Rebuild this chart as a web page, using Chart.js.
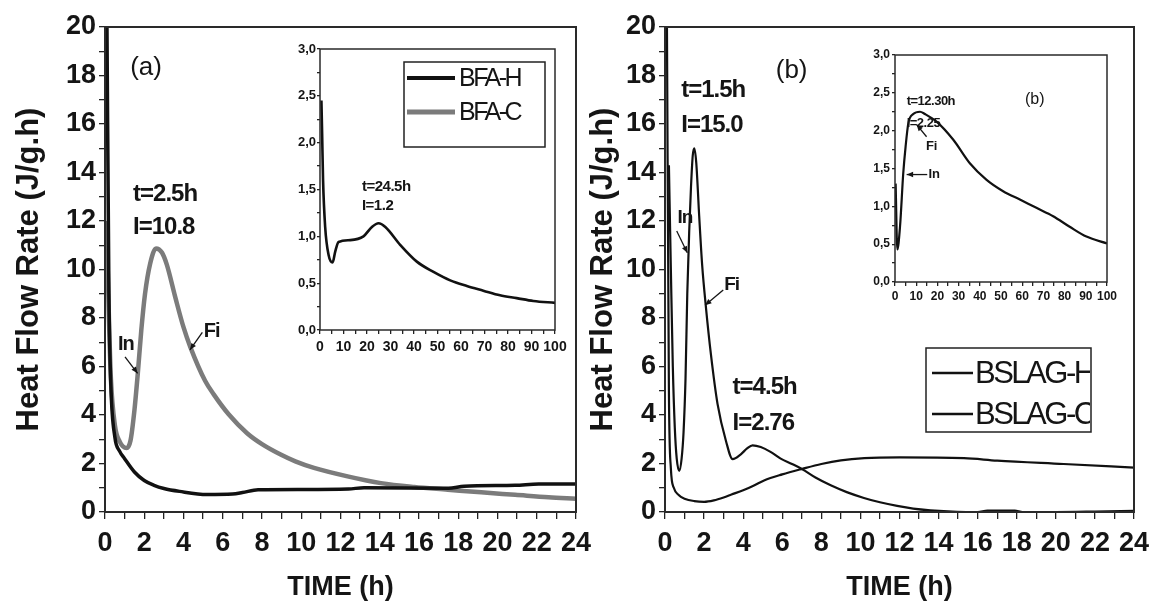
<!DOCTYPE html>
<html>
<head>
<meta charset="utf-8">
<script src="https://cdn.jsdelivr.net/npm/chart.js@4.4.1/dist/chart.umd.min.js"></script>
<style>
  body { margin: 0; background: #fff; width: 1157px; height: 614px; overflow: hidden; position: relative; }
  canvas { position: absolute; }
</style>
</head>
<body>
<canvas id="mainA" width="601" height="614" style="left:0;top:0"></canvas>
<canvas id="mainB" width="579" height="614" style="left:580px;top:0"></canvas>
<canvas id="insetA" width="283" height="330" style="left:290px;top:35px"></canvas>
<canvas id="insetB" width="263" height="275" style="left:862px;top:40px"></canvas>
<script>
// panel (a): BFA, first 24 h
const bfaHTime = [0.1, 0.2, 0.3, 0.5, 0.75, 1.0, 1.5, 2.0, 2.5, 3.0, 3.8, 5.2, 6.5, 7.0, 7.8, 10, 12.4, 13.2, 17.5, 18.3, 20.9, 22.1, 24];
const bfaHRate = [20, 9, 5.2, 3.1, 2.5, 2.2, 1.65, 1.3, 1.1, 0.97, 0.85, 0.72, 0.74, 0.8, 0.92, 0.93, 0.95, 1.0, 0.98, 1.06, 1.1, 1.15, 1.15];
const bfaCTime = [0.08, 0.2, 0.3, 0.5, 0.75, 1.1, 1.3, 1.5, 1.67, 1.85, 2.04, 2.3, 2.6, 2.9, 3.15, 3.58, 4.0, 4.35, 5.1, 5.54, 6.3, 7.24, 8.0, 8.95, 9.7, 10.65, 12.36, 14.06, 15.76, 17.47, 19.17, 20.9, 22.6, 24];
const bfaCRate = [12, 8, 5.5, 3.6, 2.9, 2.64, 2.95, 4.2, 5.7, 7.5, 9.0, 10.24, 10.87, 10.7, 10.2, 8.86, 7.62, 6.8, 5.41, 4.85, 4.03, 3.25, 2.8, 2.37, 2.09, 1.82, 1.47, 1.19, 1.03, 0.92, 0.81, 0.71, 0.61, 0.55];
// inset (a): BFA-H up to 100 h
const bfaLongTime = [0.6, 0.9, 1.3, 2.2, 3.66, 5.36, 6.5, 7.9, 12.9, 18.5, 22.1, 24.9, 27.8, 34.1, 41.2, 48.3, 55.4, 62.5, 69.5, 76.6, 83.7, 90.8, 100];
const bfaLongRate = [2.45, 2.1, 1.6, 1.1, 0.8, 0.72, 0.84, 0.94, 0.96, 1.0, 1.1, 1.14, 1.1, 0.91, 0.73, 0.62, 0.53, 0.47, 0.42, 0.37, 0.34, 0.31, 0.29];

// panel (b): BSLAG, first 24 h
const slagHTime = [0.1, 0.2, 0.3, 0.45, 0.7, 1.0, 1.5, 2.0, 2.5, 3.0, 3.4, 4.0, 4.5, 5.07, 6.0, 7.03, 8.0, 9.0, 10.2, 12.0, 15.3, 17.0, 20.4, 24];
const slagHRate = [20, 5, 1.8, 1.0, 0.7, 0.55, 0.45, 0.42, 0.48, 0.6, 0.72, 0.9, 1.07, 1.3, 1.55, 1.78, 1.98, 2.13, 2.22, 2.25, 2.22, 2.12, 1.98, 1.83];
const slagCTime = [0.2, 0.3, 0.4, 0.5, 0.6, 0.73, 0.85, 0.95, 1.05, 1.14, 1.24, 1.33, 1.42, 1.5, 1.6, 1.75, 1.9, 2.1, 2.35, 2.69, 3.12, 3.46, 3.88, 4.2, 4.48, 4.9, 5.4, 5.92, 6.5, 7.03, 7.7, 8.48, 9.3, 10.18, 11.0, 11.88, 12.7, 13.58, 14.95, 16.0, 16.5, 17.9, 18.3, 20, 22, 24];
const slagCRate = [14.3, 10, 6, 3.5, 2.2, 1.7, 2.2, 3.3, 5.5, 9.0, 11.6, 13.4, 14.7, 15.0, 14.4, 12.2, 10.2, 8.4, 6.5, 4.45, 2.93, 2.18, 2.38, 2.62, 2.75, 2.68, 2.48, 2.2, 1.98, 1.76, 1.42, 1.1, 0.82, 0.58, 0.4, 0.25, 0.14, 0.07, 0.01, 0, 0.06, 0.06, 0, 0, 0.02, 0.05];
// inset (b): up to 100 h
const slagLongTime = [0.3, 1.1, 2.36, 3.9, 5.0, 6.3, 8.6, 11.8, 14.1, 19.6, 27.5, 35.3, 43.2, 51, 58.9, 66.7, 74.6, 82.4, 90.3, 100];
const slagLongRate = [1.3, 0.43, 0.73, 1.44, 1.79, 2.1, 2.22, 2.25, 2.22, 2.12, 1.88, 1.57, 1.35, 1.2, 1.09, 0.98, 0.87, 0.73, 0.6, 0.51];

const namesA = ['BFA-H', 'BFA-C'];
const namesB = ['BSLAG-H', 'BSLAG-C'];
const yTitle = 'Heat Flow Rate (J/g.h)';
const xTitle = 'TIME (h)';

const pts = (t, v) => t.map((x, i) => ({ x: x, y: v[i] }));
const FONT = '"Liberation Sans", Arial, sans-serif';
const INK = '#151515';

// frame, notes, arrows and the boxed legends
const extras = {
  id: 'extras',
  afterDraw(chart, args, opts) {
    const { ctx, chartArea: a } = chart;
    const sx = chart.scales.x, sy = chart.scales.y;
    ctx.save();
    ctx.strokeStyle = '#2a2a2a';
    ctx.lineWidth = opts.frame || 2;
    ctx.strokeRect(a.left, a.top, a.right - a.left, a.bottom - a.top);

    (opts.arrows || []).forEach(r => {
      const x1 = sx.getPixelForValue(r[0]), y1 = sy.getPixelForValue(r[1]);
      const x2 = sx.getPixelForValue(r[2]), y2 = sy.getPixelForValue(r[3]);
      const ang = Math.atan2(y2 - y1, x2 - x1);
      ctx.strokeStyle = INK; ctx.fillStyle = INK; ctx.lineWidth = 1.3;
      ctx.beginPath(); ctx.moveTo(x1, y1); ctx.lineTo(x2, y2); ctx.stroke();
      ctx.beginPath();
      ctx.moveTo(x2, y2);
      ctx.lineTo(x2 - 7 * Math.cos(ang - 0.4), y2 - 7 * Math.sin(ang - 0.4));
      ctx.lineTo(x2 - 7 * Math.cos(ang + 0.4), y2 - 7 * Math.sin(ang + 0.4));
      ctx.closePath(); ctx.fill();
    });

    ctx.fillStyle = INK;
    ctx.textBaseline = 'middle';
    (opts.notes || []).forEach(n => {
      ctx.font = n.font;
      ctx.letterSpacing = n.spacing || '0px';
      ctx.textAlign = n.align || 'left';
      ctx.fillText(n.text, sx.getPixelForValue(n.x), sy.getPixelForValue(n.y));
    });

    const lg = opts.legend;
    if (lg) {
      ctx.letterSpacing = '0px';
      ctx.strokeStyle = '#222'; ctx.lineWidth = 1.5;
      ctx.strokeRect(lg.x, lg.y, lg.w, lg.h);
      ctx.save();
      ctx.beginPath(); ctx.rect(lg.x, lg.y, lg.w - 1, lg.h); ctx.clip();
      lg.items.forEach((it, i) => {
        const yy = lg.rows[i];
        ctx.strokeStyle = it.color; ctx.lineWidth = it.width;
        ctx.beginPath(); ctx.moveTo(lg.x1, yy); ctx.lineTo(lg.x2, yy); ctx.stroke();
        ctx.fillStyle = INK;
        ctx.font = lg.font; ctx.letterSpacing = lg.spacing;
        ctx.textAlign = 'left';
        ctx.fillText(it.label, lg.tx, yy + 1);
      });
      ctx.restore();
    }
    ctx.restore();
  }
};

function axis(o) {
  return {
    type: 'linear', min: o.min, max: o.max,
    border: { display: false },
    grid: { drawOnChartArea: false, drawTicks: true, tickLength: o.tick, color: '#222', lineWidth: 1.3 },
    ticks: {
      stepSize: o.step, autoSkip: false, maxRotation: 0, padding: o.pad, color: INK,
      font: { family: FONT, size: o.size, weight: 'bold' },
      callback: o.label
    },
    title: o.title || { display: false },
    afterFit: o.fit
  };
}

function make(id, datasets, sc, padding, extrasOpts) {
  return new Chart(document.getElementById(id), {
    type: 'line',
    data: { datasets: datasets },
    options: {
      responsive: false, animation: false,
      layout: { padding: padding },
      elements: { point: { radius: 0 }, line: { cubicInterpolationMode: 'monotone' } },
      plugins: { legend: { display: false }, tooltip: { enabled: false }, extras: extrasOpts },
      scales: sc
    },
    plugins: [extras]
  });
}

const evenLabel = v => (Math.round(v) % 2 === 0 ? String(v) : '');
const tenLabel = v => (Math.round(v) % 10 === 0 ? String(v) : '');
const commaLabel = v => (Math.round(v * 4) % 2 === 0 ? v.toFixed(1).replace('.', ',') : '');
const bigTitle = (text, size, pad) => ({ display: true, text: text, color: INK, padding: pad, font: { family: FONT, size: size, weight: 'bold' } });

const noteFont = 'bold 24px ' + FONT;

// ---- panel (a)
make('mainA', [
  { label: namesA[0], data: pts(bfaHTime, bfaHRate), borderColor: '#111', borderWidth: 3.5 },
  { label: namesA[1], data: pts(bfaCTime, bfaCRate), borderColor: '#7b7b7b', borderWidth: 4.5 }
], {
  x: axis({ min: 0, max: 24, step: 1, tick: 7, pad: 8, size: 27, label: evenLabel,
    title: bigTitle(xTitle, 27, { top: 4, bottom: 10 }), fit: s => { s.height = 102; } }),
  y: axis({ min: 0, max: 20, step: 1, tick: 6, pad: 3, size: 27, label: evenLabel,
    title: bigTitle(yTitle, 31, { top: 11, bottom: 0 }), fit: s => { s.width = 105; } })
}, { left: 0, top: 27, right: 25, bottom: 0 }, {
  frame: 2,
  notes: [
    { text: '(a)', x: 2.09, y: 18.3, align: 'center', font: '26px ' + FONT },
    { text: 't=2.5h', x: 1.43, y: 13.1, font: noteFont, spacing: '-1px' },
    { text: 'I=10.8', x: 1.43, y: 11.75, font: noteFont, spacing: '-1px' },
    { text: 'In', x: 1.06, y: 6.9, align: 'center', font: 'bold 20px ' + FONT, spacing: '-1px' },
    { text: 'Fi', x: 5.43, y: 7.44, align: 'center', font: 'bold 20px ' + FONT, spacing: '-1px' }
  ],
  arrows: [[1.02, 6.4, 1.66, 5.72], [4.96, 7.41, 4.33, 6.69]]
});

make('insetA', [
  { label: namesA[0], data: pts(bfaLongTime, bfaLongRate), borderColor: '#111', borderWidth: 2.6 }
], {
  x: axis({ min: 0, max: 100, step: 5, tick: 4, pad: 5, size: 14, label: tenLabel, fit: s => { s.height = 35; } }),
  y: axis({ min: 0, max: 3, step: 0.25, tick: 3, pad: 1, size: 13, label: commaLabel, fit: s => { s.width = 30; } })
}, { left: 0, top: 14, right: 18, bottom: 0 }, {
  frame: 1.5,
  notes: [
    { text: 't=24.5h', x: 17.85, y: 1.53, font: 'bold 15px ' + FONT, spacing: '-0.5px' },
    { text: 'I=1.2', x: 17.85, y: 1.33, font: 'bold 15px ' + FONT, spacing: '-0.5px' }
  ],
  legend: {
    x: 114, y: 27, w: 141, h: 85, x1: 117, x2: 165, tx: 169, rows: [43, 77],
    font: '25px ' + FONT, spacing: '-2.5px',
    items: [
      { label: namesA[0], color: '#111', width: 4 },
      { label: namesA[1], color: '#7b7b7b', width: 5 }
    ]
  }
});

// ---- panel (b)
make('mainB', [
  { label: namesB[0], data: pts(slagHTime, slagHRate), borderColor: '#111', borderWidth: 2.2 },
  { label: namesB[1], data: pts(slagCTime, slagCRate), borderColor: '#111', borderWidth: 2.2 }
], {
  x: axis({ min: 0, max: 24, step: 1, tick: 7, pad: 8, size: 27, label: evenLabel,
    title: bigTitle(xTitle, 27, { top: 4, bottom: 10 }), fit: s => { s.height = 102; } }),
  y: axis({ min: 0, max: 20, step: 1, tick: 6, pad: 3, size: 27, label: evenLabel,
    title: bigTitle(yTitle, 31, { top: 5, bottom: 0 }), fit: s => { s.width = 85; } })
}, { left: 0, top: 27, right: 25, bottom: 0 }, {
  frame: 2,
  notes: [
    { text: '(b)', x: 6.48, y: 18.2, align: 'center', font: '26px ' + FONT },
    { text: 't=1.5h', x: 0.83, y: 17.4, font: noteFont, spacing: '-1px' },
    { text: 'I=15.0', x: 0.83, y: 15.95, font: noteFont, spacing: '-1px' },
    { text: 'In', x: 1.02, y: 12.15, align: 'center', font: 'bold 19px ' + FONT, spacing: '-1px' },
    { text: 'Fi', x: 3.41, y: 9.36, align: 'center', font: 'bold 19px ' + FONT, spacing: '-1px' },
    { text: 't=4.5h', x: 3.46, y: 5.13, font: noteFont, spacing: '-1px' },
    { text: 'I=2.76', x: 3.46, y: 3.67, font: noteFont, spacing: '-1px' }
  ],
  arrows: [[0.6, 11.59, 1.14, 10.69], [2.98, 9.15, 2.05, 8.53]],
  legend: {
    x: 346, y: 348, w: 165, h: 84, x1: 352, x2: 393, tx: 395, rows: [373, 414],
    font: '31px ' + FONT, spacing: '-2.5px',
    items: [
      { label: namesB[0], color: '#111', width: 2.5 },
      { label: namesB[1], color: '#111', width: 2.5 }
    ]
  }
});

make('insetB', [
  { label: namesB[1], data: pts(slagLongTime, slagLongRate), borderColor: '#111', borderWidth: 2.2 }
], {
  x: axis({ min: 0, max: 100, step: 5, tick: 4, pad: 3, size: 12, label: tenLabel, fit: s => { s.height = 33; } }),
  y: axis({ min: 0, max: 3, step: 0.25, tick: 3, pad: 2, size: 12, label: commaLabel, fit: s => { s.width = 33; } })
}, { left: 0, top: 15, right: 18, bottom: 0 }, {
  frame: 1.5,
  notes: [
    { text: '(b)', x: 65.9, y: 2.41, align: 'center', font: '16px ' + FONT },
    { text: 't=12.30h', x: 5.5, y: 2.38, font: 'bold 13px ' + FONT, spacing: '-0.5px' },
    { text: 'I=2.25', x: 5.5, y: 2.1, font: 'bold 13px ' + FONT, spacing: '-0.5px' },
    { text: 'Fi', x: 17.3, y: 1.79, align: 'center', font: 'bold 13px ' + FONT },
    { text: 'In', x: 18.5, y: 1.42, align: 'center', font: 'bold 13px ' + FONT }
  ],
  arrows: [[14.9, 1.92, 10.2, 2.08], [15.2, 1.42, 5.5, 1.42]]
});
</script>
</body>
</html>
